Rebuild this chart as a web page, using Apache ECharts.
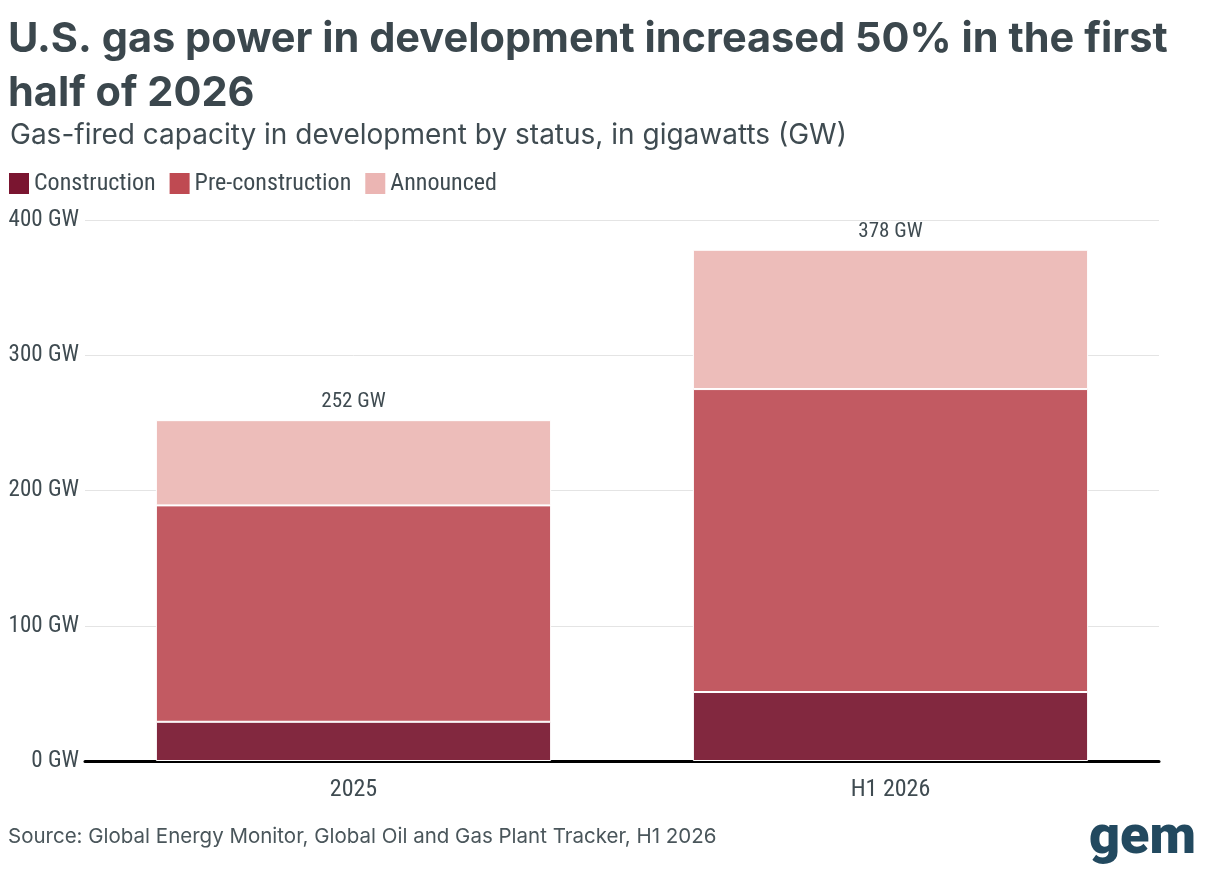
<!DOCTYPE html>
<html>
<head>
<meta charset="utf-8">
<script src="https://cdn.jsdelivr.net/npm/echarts@6/dist/echarts.min.js"></script>
<style>
  html, body { margin: 0; padding: 0; background: #fff; }
  #chart { width: 1209px; height: 880px; }
</style>
</head>
<body>
<div id="chart"></div>
<script>
// data (GW)
var categories = ['2025', 'H1 2026'];
var construction = [29, 51];
var preConstruction = [160, 224];
var announced = [63, 103];
var yTicks = [0, 100, 200, 300, 400];

var narrow = "'Roboto Condensed', 'Liberation Sans Narrow', 'DejaVu Sans Condensed', sans-serif";
var textColor = '#3f4b51';

// totals on top of each stack
var totals = (function () {
    var res = [];
    for (var i = 0; i < categories.length; i++) {
        res.push(construction[i] + preConstruction[i] + announced[i]);
    }
    return res;
})();

var myChart = echarts.init(document.getElementById('chart'));
var option = {
    backgroundColor: '#fff',
    animation: false,
    title: [
        {
            text: 'U.S. gas power in development increased 50% in the first\nhalf of 2026',
            left: 3,
            top: 8,
            textStyle: {
                fontFamily: 'Inter, Lato, sans-serif',
                fontWeight: 'bold',
                fontSize: 41.5,
                lineHeight: 54,
                color: '#3b474d'
            }
        },
        {
            text: 'Gas-fired capacity in development by status, in gigawatts (GW)',
            left: 5,
            top: 117,
            textStyle: {
                fontFamily: 'Inter, Lato, sans-serif',
                fontWeight: 'normal',
                fontSize: 28,
                color: textColor
            }
        }
    ],
    legend: {
        left: 7,
        top: 171,
        padding: 0,
        icon: 'rect',
        itemWidth: 22,
        itemHeight: 23,
        itemGap: 12,
        textStyle: { fontFamily: narrow, fontSize: 24, color: textColor, padding: [0, 0, 0, -1] },
        data: [
            { name: 'Construction', itemStyle: { color: '#7a1530' } },
            { name: 'Pre-construction', itemStyle: { color: '#bf4a52' } },
            { name: 'Announced', itemStyle: { color: '#ebb5b3' } }
        ]
    },
    grid: {
        left: 85,
        right: 50,
        top: 220,
        bottom: 119
    },
    xAxis: {
        type: 'category',
        data: categories,
        axisLine: { lineStyle: { color: '#000', width: 3 } },
        axisTick: { alignWithLabel: true, length: 9, lineStyle: { color: '#000', width: 3 } },
        axisLabel: { fontFamily: narrow, fontSize: 24, color: textColor, margin: 17 }
    },
    yAxis: {
        type: 'value',
        min: yTicks[0],
        max: yTicks[yTicks.length - 1],
        interval: 100,
        axisLine: { show: false },
        axisTick: { show: false },
        axisLabel: { formatter: '{value} GW', fontFamily: narrow, fontSize: 23, color: textColor, margin: 6 },
        splitLine: { lineStyle: { color: '#e4e4e4', width: 1 } }
    },
    series: [
        {
            name: 'Construction',
            type: 'bar',
            stack: 'gas',
            barCategoryGap: '26.4%',
            itemStyle: { color: '#82283f', borderColor: '#fff', borderWidth: 1 },
            data: construction
        },
        {
            name: 'Pre-construction',
            type: 'bar',
            stack: 'gas',
            itemStyle: { color: '#c25a62', borderColor: '#fff', borderWidth: 1 },
            data: preConstruction
        },
        {
            name: 'Announced',
            type: 'bar',
            stack: 'gas',
            itemStyle: { color: '#edbdba', borderColor: '#fff', borderWidth: 1 },
            label: {
                show: true,
                position: 'top',
                distance: 8,
                fontFamily: narrow,
                fontSize: 21,
                color: textColor,
                formatter: function (p) { return totals[p.dataIndex] + ' GW'; }
            },
            data: announced
        }
    ],
    graphic: [
        {
            type: 'text',
            left: 8,
            top: 826,
            style: {
                text: 'Source: Global Energy Monitor, Global Oil and Gas Plant Tracker, H1 2026',
                font: '20.5px Inter, Lato, sans-serif',
                fill: '#4a565b'
            }
        },
        {
            type: 'text',
            right: 13,
            top: 812,
            style: {
                text: 'gem',
                font: '900 54px Roboto, sans-serif',
                fill: '#22495f'
            }
        }
    ]
};
myChart.setOption(option, true);
</script>
</body>
</html>
